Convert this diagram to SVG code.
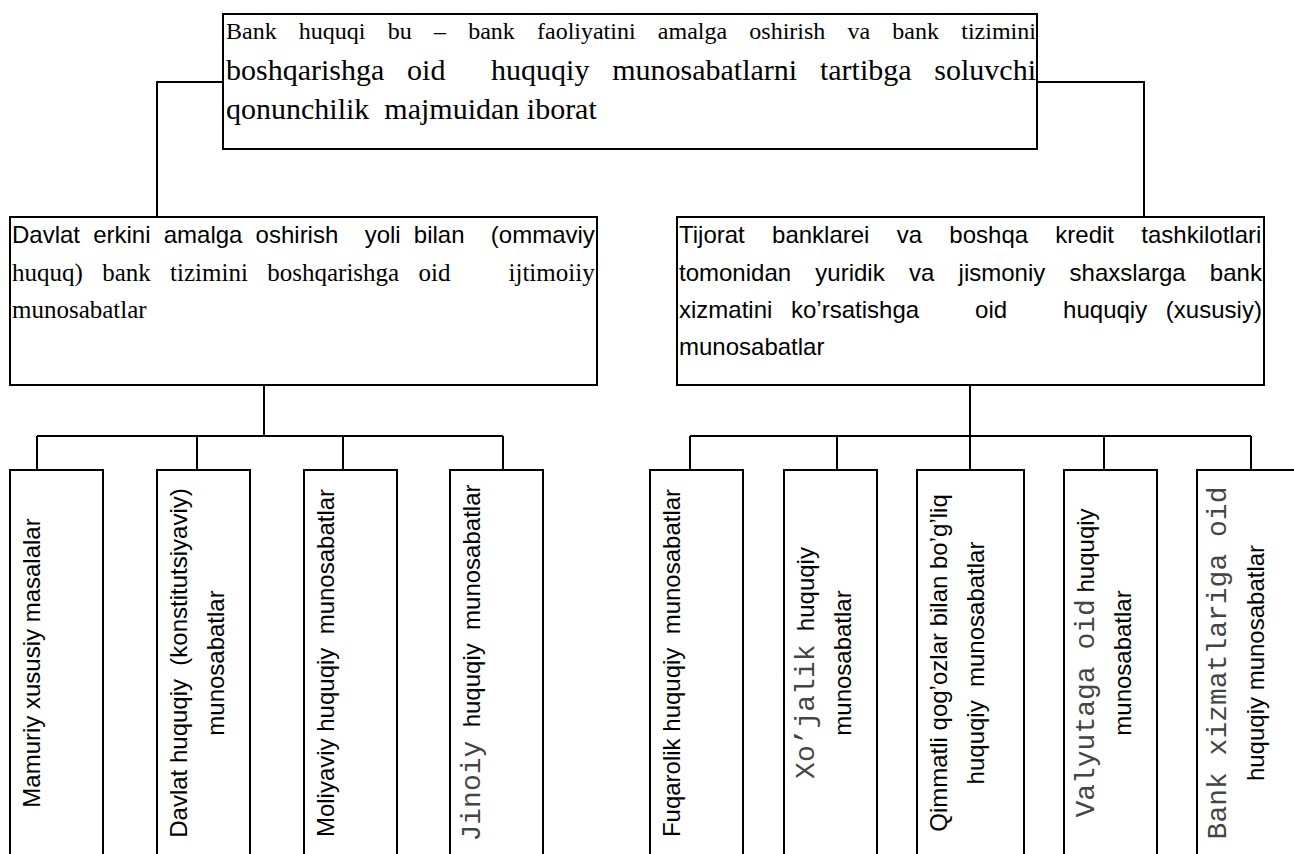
<svg xmlns="http://www.w3.org/2000/svg" width="1294" height="854" viewBox="0 0 1294 854">
<style>
.box{fill:#fff;stroke:#000;stroke-width:2}
.con{fill:none;stroke:#000;stroke-width:2}
.serif{font-family:"Liberation Serif","Times New Roman",serif;fill:#000}
.sans{font-family:"Liberation Sans",Arial,sans-serif;fill:#000}
.rot{font-family:"Liberation Sans",Arial,sans-serif;font-size:24px;fill:#000;text-anchor:middle}
.mono{font-family:"Liberation Mono","Courier New",monospace;font-size:28px;fill:#444}
</style>
<rect width="1294" height="854" fill="#fff"/>
<g id="connectors">
<path class="con" d="M223,82 H157 V217"/>
<path class="con" d="M1037,82 H1144 V217"/>
<path class="con" d="M264,385 V436 M37,436 H503 M37,436 V470 M197,436 V470 M343,436 V470 M503,436 V470"/>
<path class="con" d="M970,385 V436 M690,436 H1251 M690,436 V470 M837,436 V470 M970,436 V470 M1104,436 V470 M1251,436 V470"/>
</g>
<g id="root">
<rect class="box" x="223" y="14" width="814" height="135"/>
<text class="serif" x="226" y="39" font-size="24" word-spacing="16.2" xml:space="preserve">Bank huquqi bu – bank faoliyatini amalga oshirish va bank tizimini</text>
<text class="serif" x="226" y="80" font-size="30" word-spacing="15.3" xml:space="preserve">boshqarishga oid  huquqiy munosabatlarni tartibga soluvchi</text>
<text class="serif" x="226" y="119" font-size="30" xml:space="preserve">qonunchilik  majmuidan iborat</text>
</g>
<g id="public">
<rect class="box" x="10" y="217" width="587" height="168"/>
<text class="sans" x="12" y="243" font-size="24" word-spacing="6.5" xml:space="preserve">Davlat erkini amalga oshirish  yoli bilan  (ommaviy</text>
<text class="serif" x="12" y="281" font-size="25" word-spacing="13.1" xml:space="preserve">huquq) bank tizimini boshqarishga oid   ijtimoiiy</text>
<text class="serif" x="12" y="318" font-size="25">munosabatlar</text>
</g>
<g id="private">
<rect class="box" x="677" y="217" width="587" height="168"/>
<text class="sans" x="679" y="243" font-size="24" word-spacing="20.6" xml:space="preserve">Tijorat banklarei va boshqa kredit tashkilotlari</text>
<text class="sans" x="679" y="281" font-size="24" word-spacing="17.6" xml:space="preserve">tomonidan yuridik va jismoniy shaxslarga bank</text>
<text class="sans" x="679" y="318" font-size="24" word-spacing="12" xml:space="preserve">xizmatini ko’rsatishga   oid   huquqiy (xususiy)</text>
<text class="sans" x="679" y="355" font-size="24">munosabatlar</text>
</g>
<g id="mamuriy">
<rect class="box" x="10" y="470" width="93" height="400"/>
<text class="rot" transform="translate(39.5,663) rotate(-90)">Mamuriy xususiy masalalar</text>
</g>
<g id="davlat">
<rect class="box" x="157" y="470" width="93" height="400"/>
<text class="rot" transform="translate(186.5,663) rotate(-90)" xml:space="preserve">Davlat huquqiy  (konstitutsiyaviy)</text>
<text class="rot" transform="translate(223.5,663) rotate(-90)">munosabatlar</text>
</g>
<g id="moliyaviy">
<rect class="box" x="304" y="470" width="93" height="400"/>
<text class="rot" transform="translate(333.5,663) rotate(-90)" xml:space="preserve">Moliyaviy huquqiy  munosabatlar</text>
</g>
<g id="jinoiy">
<rect class="box" x="450" y="470" width="93" height="400"/>
<text class="rot" transform="translate(479.5,663) rotate(-90)" xml:space="preserve"><tspan class="mono">Jinoiy</tspan>  huquqiy  munosabatlar</text>
</g>
<g id="fuqarolik">
<rect class="box" x="650" y="470" width="93" height="400"/>
<text class="rot" transform="translate(680,663) rotate(-90)" xml:space="preserve">Fuqarolik huquqiy  munosabatlar</text>
</g>
<g id="xojalik">
<rect class="box" x="784" y="470" width="93" height="400"/>
<text class="rot" transform="translate(814,663) rotate(-90)" xml:space="preserve"><tspan class="mono">Xo’jalik</tspan>  huquqiy</text>
<text class="rot" transform="translate(851,663) rotate(-90)">munosabatlar</text>
</g>
<g id="qimmatli">
<rect class="box" x="917" y="470" width="107" height="400"/>
<text class="rot" transform="translate(947,663) rotate(-90)">Qimmatli qog’ozlar bilan bo’g’liq</text>
<text class="rot" transform="translate(984,663) rotate(-90)" xml:space="preserve">huquqiy  munosabatlar</text>
</g>
<g id="valyuta">
<rect class="box" x="1064" y="470" width="93" height="400"/>
<text class="rot" transform="translate(1094,663) rotate(-90)" xml:space="preserve"><tspan class="mono">Valyutaga oid</tspan> huquqiy</text>
<text class="rot" transform="translate(1131,663) rotate(-90)">munosabatlar</text>
</g>
<g id="bankxizmat">
<rect class="box" x="1197" y="470" width="120" height="400"/>
<text class="rot mono" transform="translate(1226,663) rotate(-90)" style="text-anchor:middle">Bank xizmatlariga oid</text>
<text class="rot" transform="translate(1264,663) rotate(-90)">huquqiy munosabatlar</text>
</g>
</svg>
